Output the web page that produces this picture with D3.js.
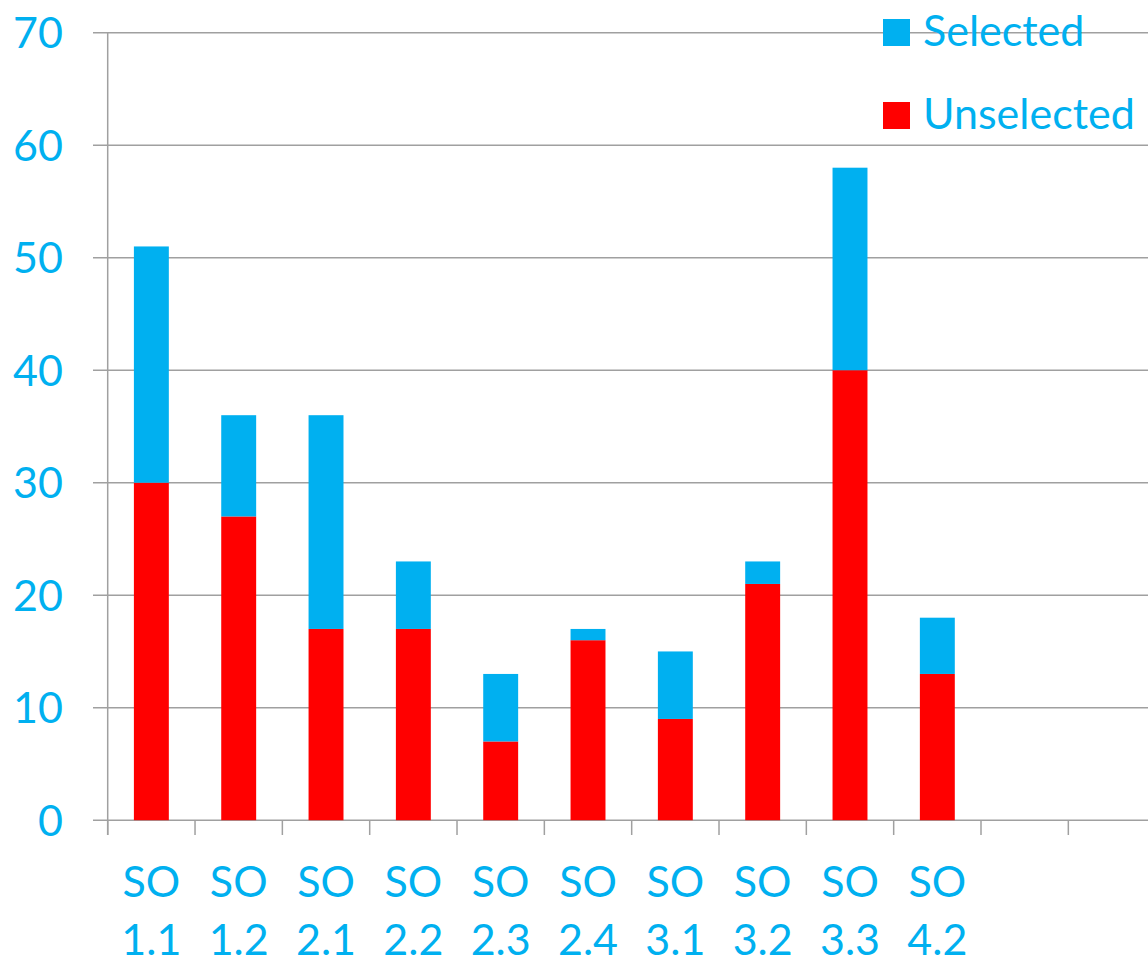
<!DOCTYPE html>
<html><head><meta charset="utf-8">
<script src="https://cdn.jsdelivr.net/npm/d3@7"></script>
<style>html,body{margin:0;padding:0;background:#fff;overflow:hidden}</style>
</head><body>
<svg id="c" width="1148" height="960"></svg>
<script>
const categories = ["SO 1.1","SO 1.2","SO 2.1","SO 2.2","SO 2.3","SO 2.4","SO 3.1","SO 3.2","SO 3.3","SO 4.2","",""];
const unselected = [30,27,17,17,7,16,9,21,40,13,null,null];
const selected   = [21,9,19,6,6,1,6,2,18,5,null,null];
const yTicks = [0,10,20,30,40,50,60,70];
const seriesNames = ["Selected","Unselected"];

const blue = "#00B0F0", red = "#FF0000", grid = "#A0A0A0";
const font = "Lato, 'Open Sans', sans-serif";
const svg = d3.select("#c");
const x0 = 107.7, step = 87.33;
const keys = categories.map((c,i)=>"k"+i);
const x = d3.scaleBand().domain(keys).range([x0, x0+step*keys.length]).paddingInner(0).paddingOuter(0);
const y = d3.scaleLinear().domain([0,70]).range([820.2, 32.7]);

// gridlines
svg.append("g").selectAll("line").data(yTicks.filter(d=>d>0)).join("line")
  .attr("x1",93).attr("x2",1148).attr("y1",d=>y(d)).attr("y2",d=>y(d))
  .attr("stroke",grid).attr("stroke-width",1.5);
// y axis line + ticks
svg.append("line").attr("x1",x0).attr("x2",x0).attr("y1",y(70)).attr("y2",835)
  .attr("stroke",grid).attr("stroke-width",1.5);
svg.append("line").attr("x1",93).attr("x2",1148).attr("y1",y(0)).attr("y2",y(0))
  .attr("stroke",grid).attr("stroke-width",1.5);
svg.append("g").selectAll("line").data(keys).join("line")
  .attr("x1",d=>x(d)).attr("x2",d=>x(d)).attr("y1",y(0)).attr("y2",835)
  .attr("stroke",grid).attr("stroke-width",1.5);

// y labels
svg.append("g").selectAll("text").data(yTicks).join("text")
  .attr("x",63).attr("y",d=>y(d)+15.5).attr("text-anchor","end")
  .attr("font-family",font).attr("font-size",43).attr("fill",blue).text(d=>d);

// bars
const bw = step*0.4;
const g = svg.append("g");
categories.forEach((c,i)=>{
  if (unselected[i]==null) return;
  const cx = x(keys[i]) + x.bandwidth()/2;
  g.append("rect").attr("x",cx-bw/2).attr("width",bw)
    .attr("y",y(unselected[i])).attr("height",y(0)-y(unselected[i])).attr("fill",red);
  g.append("rect").attr("x",cx-bw/2).attr("width",bw)
    .attr("y",y(unselected[i]+selected[i])).attr("height",y(unselected[i])-y(unselected[i]+selected[i])).attr("fill",blue);
});

// x labels
categories.forEach((c,i)=>{
  if (!c) return;
  const parts = c.split(" ");
  const cx = x(keys[i]) + x.bandwidth()/2;
  const t = svg.append("text").attr("text-anchor","middle").attr("font-family",font)
    .attr("font-size",43).attr("fill",blue);
  t.append("tspan").attr("x",cx).attr("y",897).text(parts[0]);
  t.append("tspan").attr("x",cx).attr("y",955).text(parts[1]);
});

// legend
const leg = [{name:seriesNames[0],color:blue,y:19},{name:seriesNames[1],color:red,y:102}];
leg.forEach(l=>{
  svg.append("rect").attr("x",883).attr("y",l.y).attr("width",27).attr("height",27).attr("fill",l.color);
  svg.append("text").attr("x",923).attr("y",l.y+27).attr("font-family",font).attr("font-size",43)
    .attr("fill",blue).text(l.name);
});
</script>
</body></html>
